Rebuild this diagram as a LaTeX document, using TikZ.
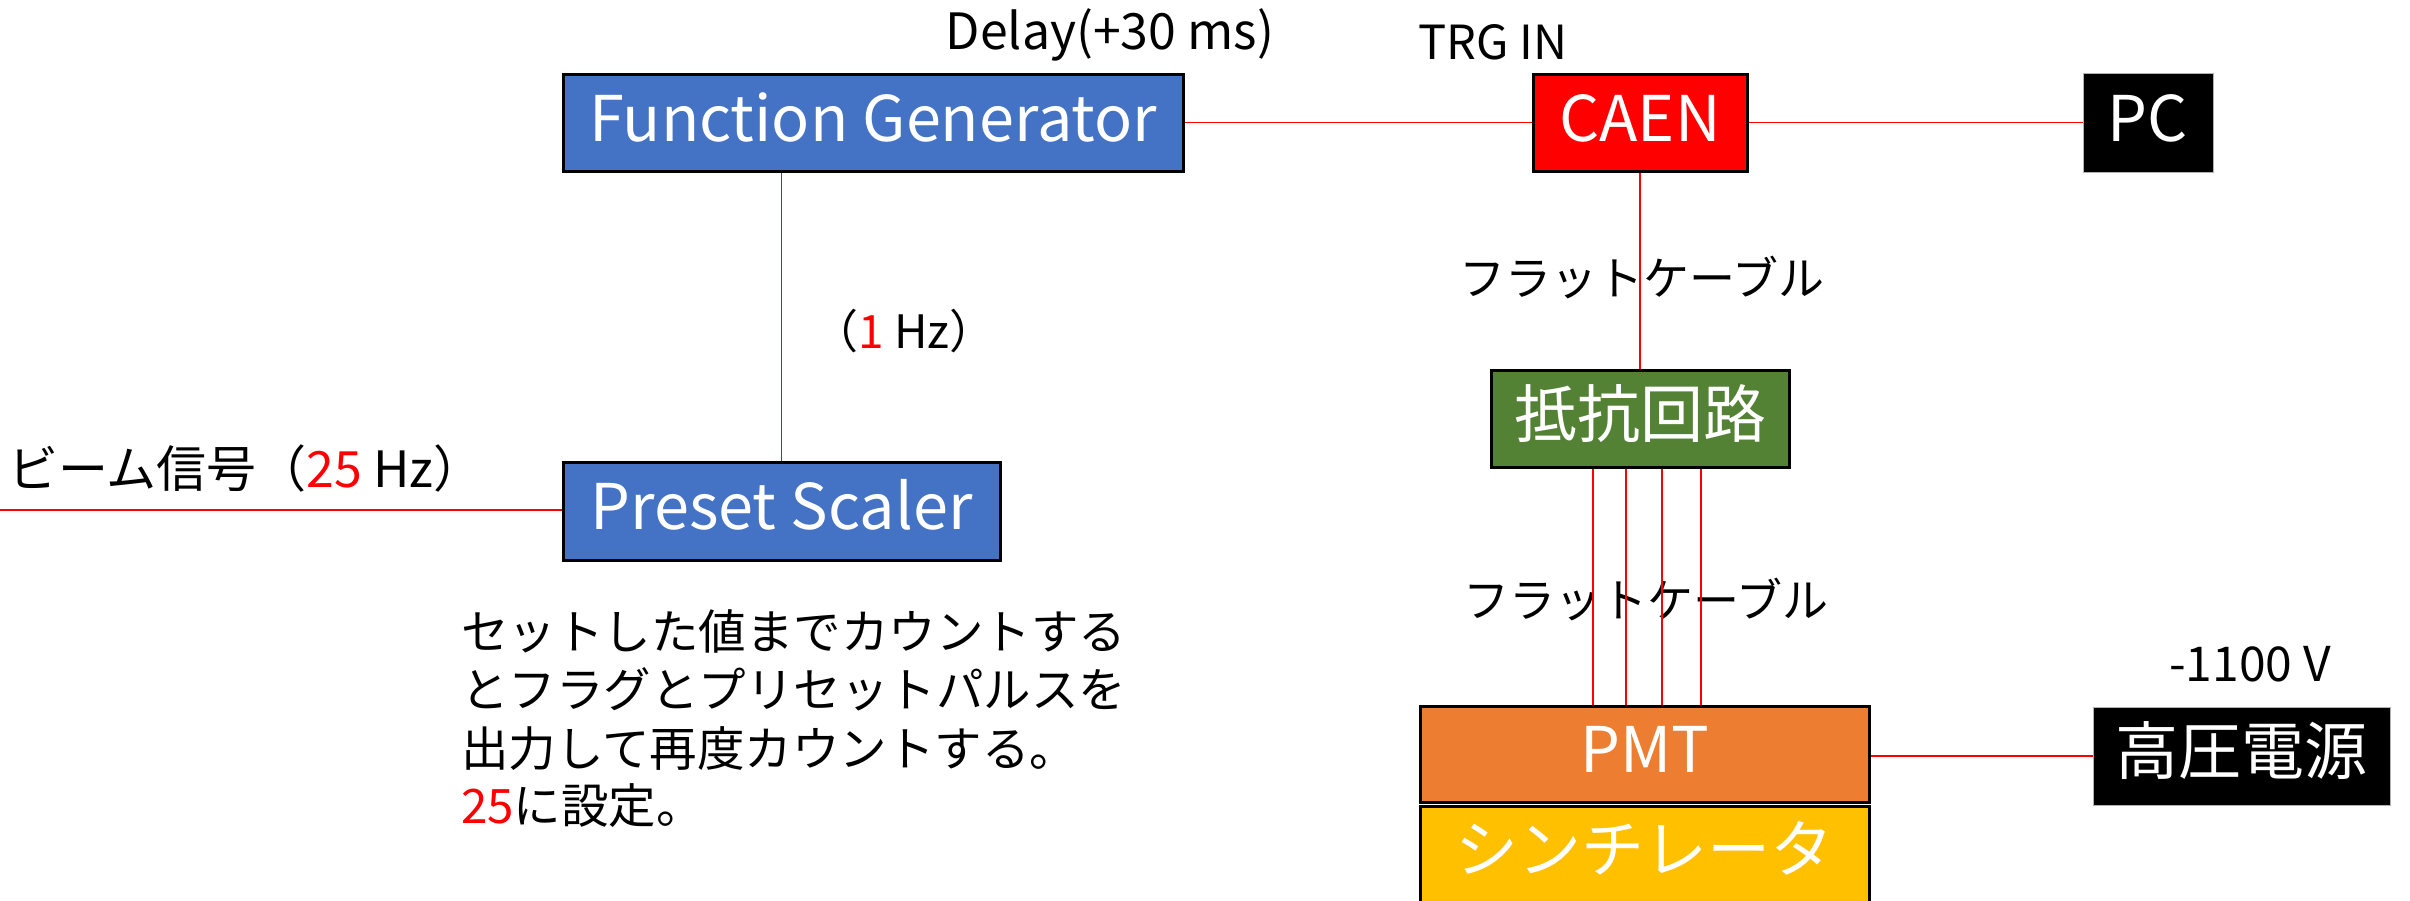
\documentclass[tikz,border=0pt]{standalone}
\usepackage{fontspec}
\setmainfont{Noto Sans CJK JP}
\definecolor{fgblue}{HTML}{4472C4}
\definecolor{caenred}{HTML}{FF0000}
\definecolor{resgreen}{HTML}{548235}
\definecolor{pmtorange}{HTML}{ED7D31}
\definecolor{scintyellow}{HTML}{FFC000}
\definecolor{wirered}{HTML}{FF0000}
\definecolor{numred}{HTML}{FF0000}
\begin{document}
\begin{tikzpicture}[x=1pt,y=-1pt,
  unit/.style={draw=black, line width=3pt, text=white,
    font=\fontsize{63}{70}\selectfont, inner sep=0pt,
    text height=50pt, text depth=13pt},
  darkunit/.style={draw=gray!60, fill=black, line width=1pt, text=white,
    font=\fontsize{63}{70}\selectfont, inner sep=0pt,
    text height=50pt, text depth=13pt},
  tag/.style={font=\fontsize{46}{56}\selectfont, text=black, inner sep=0pt, anchor=base},
  note/.style={font=\fontsize{47.5}{58}\selectfont, text=black, inner sep=0pt, anchor=base west},
  wire/.style={draw=wirered, line width=1.6pt}]
\fill[white] (0,0) rectangle (2410,900);
\useasboundingbox (0,0) rectangle (2410,900);

% units
\node[unit, fill=fgblue, minimum width=620pt, minimum height=97pt] (fg) at (873,122.5) {Function Generator};
\node[unit, fill=caenred, minimum width=214pt, minimum height=97pt] (caen) at (1640,122.5) {CAEN};
\node[darkunit, minimum width=130pt, minimum height=99pt] (pc) at (2148,122.5) {PC};
\node[unit, fill=fgblue, minimum width=437pt, minimum height=98pt] (ps) at (781.5,511) {Preset Scaler};
\node[unit, fill=resgreen, minimum width=298pt, minimum height=97pt] (res) at (1640,418.5) {抵抗回路};
\node[unit, fill=pmtorange, minimum width=449pt, minimum height=96pt] (pmt) at (1644.5,754) {PMT};
\node[unit, fill=scintyellow, minimum width=449pt, minimum height=96pt] (scint) at (1644.5,854) {シンチレータ};
\node[darkunit, minimum width=297pt, minimum height=98pt] (hv) at (2241.5,756) {高圧電源};

% labels
\node[tag, font=\fontsize{50}{60}\selectfont] (delay) at (1110,49) {Delay(+30 ms)};
\node[tag, font=\fontsize{47}{56}\selectfont] (trg) at (1493,59) {TRG IN};
\node[tag] (rate1) at (904,348) {（\textcolor{numred}{1} Hz）};
\node[tag, anchor=base west, font=\fontsize{50}{60}\selectfont] (beam) at (8,487) {ビーム信号（\textcolor{numred}{25} Hz）};
\node[tag] (flat1) at (1642,295) {フラットケーブル};
\node[tag] (flat2) at (1646,617) {フラットケーブル};
\node[tag, font=\fontsize{48}{58}\selectfont] (hvset) at (2250,681) {-1100 V};

% description of the preset scaler
\node[note] (d1) at (461,649) {セットした値までカウントする};
\node[note] (d2) at (461,707) {とフラグとプリセットパルスを};
\node[note] (d3) at (461,766) {出力して再度カウントする。};
\node[note] (d4) at (461,823) {\textcolor{numred}{25}に設定。};

% connections
\coordinate (beamin) at (0,510);
\draw[wire] (fg.east) -- (caen.west);
\draw[wire] (caen.east) -- (pc.west);
\draw[wire] (beamin) -- (ps.west |- beamin);
\draw[wire] (ps.north |- fg.south) -- (ps.north);
\draw[wire] (caen.south) -- (res.north);
\foreach \dx in {-47,-14,22,61}
  \draw[wire] ([xshift=\dx pt]res.south) -- ([xshift=\dx pt]res.south |- pmt.north);
\draw[wire] (pmt.east |- hv.west) -- (hv.west);
\end{tikzpicture}
\end{document}
